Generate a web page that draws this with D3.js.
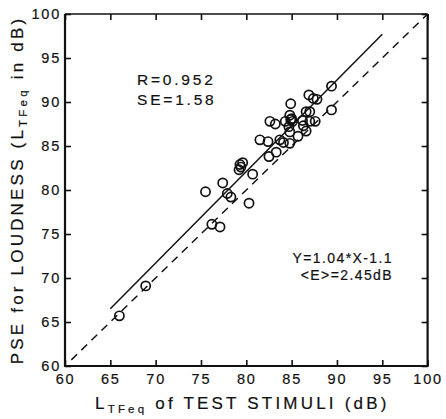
<!DOCTYPE html>
<html>
<head>
<meta charset="utf-8">
<script src="https://cdn.jsdelivr.net/npm/d3@7"></script>
<style>
    body { margin: 0; background: #fff; }
    text { font-family: "Liberation Sans", Arial, sans-serif; fill: #111; stroke: #111; stroke-width: 0.2px; }
</style>
</head>
<body>
<div id="chart-area"></div>
<script>
// values
const stimulusLevel = [66.0, 68.9, 76.2, 77.1, 75.5, 77.4, 77.9, 78.3, 79.2, 79.3, 79.6, 79.4,
    80.7, 80.3, 81.5, 82.4, 82.5, 83.3, 83.7, 84.1, 84.8, 84.8, 85.7, 86.6, 84.7, 86.3,
    82.6, 83.2, 84.3, 85.1, 86.2, 87.0, 87.6, 84.8, 86.6, 87.0, 84.9, 86.9, 87.4, 87.8,
    89.4, 89.4, 85.0, 84.9];
const pseLevel = [65.7, 69.1, 76.1, 75.8, 79.8, 80.8, 79.6, 79.2, 82.3, 82.9, 83.1, 82.6,
    81.8, 78.5, 85.7, 85.5, 83.8, 84.3, 85.7, 85.4, 85.3, 86.6, 86.1, 86.7, 87.2, 87.3,
    87.8, 87.5, 87.8, 87.8, 87.9, 87.8, 87.8, 88.5, 88.9, 88.9, 89.8, 90.8, 90.4, 90.3,
    91.8, 89.1, 88.1, 88.0];

const fitX = [65, 95];
const fitY = [66.5, 97.7];
const equalX = [60.7, 100];
const equalY = [60.7, 100];

const axisTicks = [60, 65, 70, 75, 80, 85, 90, 95, 100];
const statsLines = ["R=0.952", "SE=1.58"];
const fitLines = ["Y=1.04*X-1.1", "<E>=2.45dB"];

const margin = { top: 14, right: 18.4, bottom: 53, left: 65 };
const width = 446 - margin.left - margin.right;
const height = 419 - margin.top - margin.bottom;

const svg = d3.select("#chart-area")
    .append("svg")
    .attr("width", 446)
    .attr("height", 419)
    .append("g")
    .attr("transform", `translate(${margin.left}, ${margin.top})`);

const x = d3.scaleLinear().domain([60, 100]).range([0, width]);
const y = d3.scaleLinear().domain([60, 100]).range([height, 0]);

// axes, ticks pointing inward
const styleAxis = g => {
    g.select(".domain").remove();
    g.selectAll(".tick line").attr("stroke", "#111").attr("stroke-width", 1.6);
    g.selectAll(".tick text")
        .style("font-size", "14.5px")
        .style("letter-spacing", "1.8px")
        .attr("fill", "#111");
};

svg.append("g")
    .attr("transform", `translate(0, ${height})`)
    .call(d3.axisBottom(x).tickValues(axisTicks).tickSize(-6).tickPadding(8))
    .call(styleAxis);

svg.append("g")
    .call(d3.axisLeft(y).tickValues(axisTicks).tickSize(-6).tickPadding(4))
    .call(styleAxis);

svg.append("g")
    .call(d3.axisTop(x).tickValues(axisTicks).tickSize(-6).tickFormat(""))
    .call(styleAxis);

svg.append("g")
    .attr("transform", `translate(${width}, 0)`)
    .call(d3.axisRight(y).tickValues(axisTicks).tickSize(-6).tickFormat(""))
    .call(styleAxis);

// frame
svg.append("path")
    .attr("d", `M0,0V${height}H${width}V0`)
    .attr("fill", "none")
    .attr("stroke", "#111")
    .attr("stroke-width", 2.2);
svg.append("line")
    .attr("x1", 0).attr("x2", width).attr("y1", 0).attr("y2", 0)
    .attr("stroke", "#111")
    .attr("stroke-width", 1.3);

const line = d3.line().x(d => x(d[0])).y(d => y(d[1]));

// equality line
svg.append("path")
    .attr("d", line(d3.zip(equalX, equalY)))
    .attr("fill", "none")
    .attr("stroke", "#111")
    .attr("stroke-width", 1.5)
    .attr("stroke-dasharray", "8,6");

// regression line
svg.append("path")
    .attr("d", line(d3.zip(fitX, fitY)))
    .attr("fill", "none")
    .attr("stroke", "#111")
    .attr("stroke-width", 1.5);

svg.selectAll(".pt")
    .data(d3.zip(stimulusLevel, pseLevel))
    .join("circle")
    .attr("class", "pt")
    .attr("cx", d => x(d[0]))
    .attr("cy", d => y(d[1]))
    .attr("r", 4.6)
    .attr("fill", "none")
    .attr("stroke", "#111")
    .attr("stroke-width", 1.7);

// annotations
svg.append("g").selectAll("text")
    .data(statsLines)
    .join("text")
    .attr("x", 72)
    .attr("y", (d, i) => 71 + i * 20)
    .style("font-size", "15.5px")
    .style("letter-spacing", "2.8px")
    .text(d => d);

svg.append("g").selectAll("text")
    .data(fitLines)
    .join("text")
    .attr("x", 328)
    .attr("y", (d, i) => 249 + i * 17)
    .attr("text-anchor", "end")
    .style("font-size", "14px")
    .style("letter-spacing", "1.4px")
    .text(d => d);

// axis titles with subscript
const xTitle = svg.append("text")
    .attr("x", width / 2 - 4)
    .attr("y", height + 43)
    .attr("text-anchor", "middle")
    .style("font-size", "17px")
    .style("letter-spacing", "3.2px");
xTitle.append("tspan").text("L");
xTitle.append("tspan").attr("dy", 4).style("font-size", "11.5px").text("TFeq");
xTitle.append("tspan").attr("dy", -4).text(" of TEST STIMULI (dB)");

const yTitle = svg.append("text")
    .attr("transform", `translate(-42, ${height / 2}) rotate(-90)`)
    .attr("text-anchor", "middle")
    .style("font-size", "17px")
    .style("letter-spacing", "3.2px");
yTitle.append("tspan").text("PSE for LOUDNESS (L");
yTitle.append("tspan").attr("dy", 4).style("font-size", "11.5px").text("TFeq");
yTitle.append("tspan").attr("dy", -4).text(" in dB)");
</script>
</body>
</html>
